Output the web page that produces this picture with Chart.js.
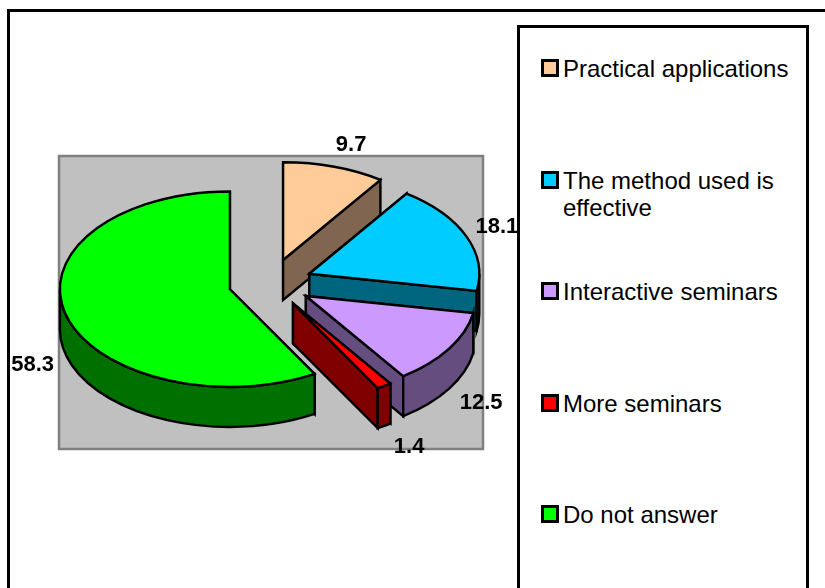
<!DOCTYPE html>
<html>
<head>
<meta charset="utf-8">
<title>Pie chart</title>
<script src="https://cdn.jsdelivr.net/npm/chart.js@4"></script>
<style>
  html, body { margin: 0; padding: 0; background: #fff; overflow: hidden; }
  #page { position: relative; width: 825px; height: 588px; overflow: hidden; font-family: "Liberation Sans", Arial, sans-serif; }
  #frame { position: absolute; left: 7px; top: 9px; width: 900px; height: 700px; border: 3px solid #000; }
  #chart { position: absolute; left: 0; top: 0; }
  #legend { position: absolute; left: 517px; top: 25px; width: 292px; height: 700px; background: #fff; border: 3px solid #000; box-sizing: border-box; }
  .item { position: absolute; left: 21px; width: 250px; font-size: 24px; line-height: 27px; color: #000; padding-left: 22px; box-sizing: border-box; }
  .swatch { position: absolute; left: 0; top: 4px; width: 18px; height: 18px; border: 3px solid #000; box-sizing: border-box; }
</style>
</head>
<body>
<div id="page">
  <div id="frame"></div>
  <canvas id="chart" width="825" height="588"></canvas>
  <div id="legend"></div>
</div>
<script>
const categories = ['Practical applications', 'The method used is effective', 'Interactive seminars', 'More seminars', 'Do not answer'];
const values = [9.7, 18.1, 12.5, 1.4, 58.3];
const topColors = ['#FFCC99', '#00CCFF', '#CC99FF', '#FF0000', '#00FF00'];
const sideColors = ['#806650', '#006680', '#664D80', '#800000', '#007000'];

const SQUASH = 0.575;
const DEPTH = 40;
const EXPLODE = 42;
const labelShift = [[17, -22], [30.5, -9], [32, 54], [25, 61], [-33, 51]];
const legendTops = [40, 152, 263, 375, 486];

// draws path built in squashed space, but strokes it with an even line width
function paint(chart, ctx, build, fill) {
    const dpr = chart.currentDevicePixelRatio;
    ctx.beginPath();
    build();
    ctx.save();
    ctx.setTransform(dpr, 0, 0, dpr, 0, 0);
    if (fill) {
        ctx.fillStyle = fill;
        ctx.fill();
    }
    ctx.lineWidth = 2.4;
    ctx.lineJoin = 'miter';
    ctx.strokeStyle = '#000';
    ctx.stroke();
    ctx.restore();
}

function drawWalls(chart, ctx, arc, side) {
    const d = DEPTH / SQUASH;
    const r = arc.outerRadius;
    const cut = function (a) {
        return function () {
            const ex = arc.x + Math.cos(a) * r;
            const ey = arc.y + Math.sin(a) * r;
            ctx.moveTo(arc.x, arc.y);
            ctx.lineTo(ex, ey);
            ctx.lineTo(ex, ey + d);
            ctx.lineTo(arc.x, arc.y + d);
            ctx.closePath();
        };
    };
    paint(chart, ctx, cut(arc.startAngle), side);
    paint(chart, ctx, cut(arc.endAngle), side);
    const lo = Math.max(arc.startAngle, 0);
    const hi = Math.min(arc.endAngle, Math.PI);
    if (hi > lo) {
        paint(chart, ctx, function () {
            ctx.arc(arc.x, arc.y, r, lo, hi);
            ctx.arc(arc.x, arc.y + d, r, hi, lo, true);
            ctx.closePath();
        }, side);
    }
}

const pie3d = {
    id: 'pie3d',
    beforeDraw(chart) {
        // grey plot area behind the pie
        const ctx = chart.ctx;
        ctx.save();
        ctx.fillStyle = '#C0C0C0';
        ctx.strokeStyle = '#808080';
        ctx.lineWidth = 2.5;
        ctx.fillRect(59, 156, 424, 293);
        ctx.strokeRect(59, 156, 424, 293);
        ctx.restore();
    },
    afterDatasetsUpdate(chart) {
        // pull every slice out by the same distance, along its middle angle
        chart.getDatasetMeta(0).data.forEach(function (arc, i) {
            const mid = (arc.startAngle + arc.endAngle) / 2;
            arc.x += Math.cos(mid) * EXPLODE;
            arc.y += Math.sin(mid) * EXPLODE;
            arc.draw = function (ctx, area) {
                drawWalls(chart, ctx, arc, sideColors[i]);
                Chart.ArcElement.prototype.draw.call(arc, ctx, area);
                paint(chart, ctx, function () {
                    ctx.moveTo(arc.x, arc.y);
                    ctx.arc(arc.x, arc.y, arc.outerRadius, arc.startAngle, arc.endAngle);
                    ctx.closePath();
                });
            };
        });
    },
    beforeDatasetDraw(chart) {
        const ctx = chart.ctx;
        const cy = (chart.chartArea.top + chart.chartArea.bottom) / 2;
        ctx.save();
        ctx.translate(0, cy);
        ctx.scale(1, SQUASH);
        ctx.translate(0, -cy);
    },
    afterDatasetDraw(chart) {
        chart.ctx.restore();
    },
    afterDraw(chart) {
        // value labels
        const ctx = chart.ctx;
        const cy = (chart.chartArea.top + chart.chartArea.bottom) / 2;
        ctx.save();
        ctx.font = 'bold 22px "Liberation Sans", Arial, sans-serif';
        ctx.fillStyle = '#000';
        ctx.textAlign = 'center';
        ctx.textBaseline = 'middle';
        chart.getDatasetMeta(0).data.forEach(function (arc, i) {
            const mid = (arc.startAngle + arc.endAngle) / 2;
            const ox = arc.x + Math.cos(mid) * arc.outerRadius;
            const oy = cy + (arc.y + Math.sin(mid) * arc.outerRadius - cy) * SQUASH;
            ctx.fillText(String(values[i]), ox + labelShift[i][0], oy + labelShift[i][1]);
        });
        ctx.restore();
    }
};

new Chart(document.getElementById('chart'), {
    type: 'pie',
    data: {
        labels: categories,
        datasets: [{
            data: values,
            backgroundColor: topColors,
            borderWidth: 0,
            radius: 170,
            clip: false
        }]
    },
    options: {
        responsive: false,
        animation: false,
        events: [],
        layout: { padding: { right: 284, bottom: 22 } },
        plugins: {
            legend: { display: false },
            tooltip: { enabled: false }
        }
    },
    plugins: [pie3d]
});

// legend on the right
const legendEl = document.getElementById('legend');
legendEl.innerHTML = categories.map(function (name, i) {
    return `<div class="item" style="top:${legendTops[i] - 13}px"><span class="swatch" style="background:${topColors[i]}"></span>${name}</div>`;
}).join('');
</script>
</body>
</html>
